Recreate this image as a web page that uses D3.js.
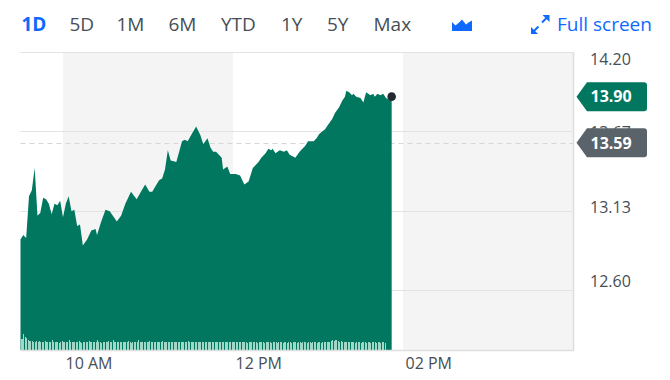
<!DOCTYPE html>
<html><head><meta charset="utf-8">
<script src="https://cdn.jsdelivr.net/npm/d3@7"></script>
<style>
html,body{margin:0;padding:0;background:#fff;}
svg{display:block;font-family:"Open Sans",sans-serif;}
</style></head>
<body>
<svg id="chart" width="670" height="380"></svg>
<script>
// ---- data ----
const rangeButtons = ["1D","5D","1M","6M","YTD","1Y","5Y","Max"];
const activeRange = "1D";
// minutes after the 09:30 open
const minutes = [0,2,4,6,8,10,12,14,16,18,20,22,24,26,28,30,32,34,36,38,40,42,44,47,50,53,54,57,60,63,68,71,74,78,82,85,88,91,93,96,98,100,102,104,106,110,112,114,116,118,121,124,127,129,132,134,136,138,142,143,146,148,152,155,158,161,164,168,170,173,175,177,178,180,183,186,188,190,194,197,201,203,207,209,211,215,217,220,222,225,227,229,230,232,234,235,237,240,242,244,247,249,250,252,254,256,258,260,262];
const prices = [12.94,12.97,12.95,13.23,13.27,13.42,13.10,13.12,13.22,13.21,13.18,13.11,13.18,13.17,13.20,13.09,13.18,13.23,13.13,13.14,13.03,13.04,12.90,12.94,13.00,13.01,12.97,13.06,13.14,13.13,13.06,13.10,13.18,13.26,13.21,13.26,13.31,13.26,13.26,13.31,13.34,13.35,13.41,13.54,13.47,13.46,13.53,13.60,13.61,13.60,13.65,13.70,13.64,13.58,13.62,13.56,13.53,13.53,13.49,13.41,13.43,13.38,13.38,13.37,13.31,13.33,13.42,13.46,13.49,13.52,13.55,13.54,13.55,13.52,13.54,13.53,13.54,13.51,13.49,13.53,13.57,13.60,13.60,13.62,13.65,13.68,13.71,13.75,13.79,13.83,13.87,13.90,13.94,13.93,13.91,13.92,13.90,13.89,13.86,13.93,13.91,13.92,13.90,13.92,13.91,13.92,13.89,13.88,13.90];
// per-minute volume (thousands), from 09:30
const volume = [75,80,110,95,88,70,66,62,64,60, 58,62,57,66,60,58,55,63,57,60, 56,54,70,58,55,60,56,52,58,62,
 55,57,60,54,72,56,58,53,60,57, 55,62,58,52,56,60,54,58,66,56, 57,53,60,55,70,58,56,52,57,60,
 55,58,62,54,57,72,58,55,60,56, 53,57,60,55,58,54,62,56,52,57, 60,55,58,68,56,53,57,60,54,58,
 56,62,55,57,53,60,56,58,54,57, 66,56,53,58,55,57,60,54,56,58, 55,60,54,57,53,58,56,55,64,57,
 54,58,56,53,57,55,60,54,57,56, 53,58,55,57,54,56,60,55,53,57, 55,58,54,56,53,57,55,54,58,56,
 53,55,57,54,56,53,55,57,54,56, 52,55,54,56,53,55,54,52,55,54, 53,55,52,54,56,53,54,52,55,53,
 54,52,55,53,54,52,53,55,52,54, 53,52,54,53,55,52,54,53,52,54, 53,55,52,54,53,52,54,53,55,52,
 54,53,52,55,53,54,56,55,58,62, 70,66,74,68,64,60,62,58,56,55, 57,54,56,53,55,54,52,55,53,54,
 52,54,53,55,52,54,53,52,54,53, 55,52,54,53,52,54,56,50];
const yTicks = [14.20,13.67,13.13,12.60];
const xTicks = [[10,0,"10 AM"],[12,0,"12 PM"],[14,0,"02 PM"]];
const lastPrice = 13.90;
const prevClose = 13.59;
const fullScreenLabel = "Full screen";

// ---- setup ----
const svg = d3.select("#chart");
const day = (h,m)=>new Date(2024,0,2,h,m);
const L = 20.5, R = 573, T = 52, B = 350;
const x = d3.scaleTime().domain([day(9,30), day(16,0)]).range([L, R]);
const y = d3.scaleLinear().domain([12.197, 14.20]).range([B, T]);
const yLabel = d3.scaleLinear().domain([12.60, 14.20]).range([281, 59]);
const vy = d3.scaleLinear().domain([0, 120]).range([B, B - 17]);
const series = minutes.map((m,i)=>({t: day(9,30+m), p: prices[i]}));

// ---- toolbar ----
const btnX = [21.5,69.5,116.5,168.5,221,281,327,373.5];
svg.selectAll("text.btn").data(rangeButtons).join("text")
  .attr("class","btn")
  .attr("x",(d,i)=>btnX[i]).attr("y",31)
  .attr("font-size",19)
  .attr("font-weight",d=>d===activeRange?700:400)
  .attr("fill",d=>d===activeRange?"#0f69ff":"#464e56")
  .text(d=>d);
// area-chart icon
svg.append("path").attr("d","M452,31 L452,22 L455.5,25.5 L458.5,23 L462,19.5 L466,24.5 L468.5,22.5 L472,20.5 L472,31 Z").attr("fill","#0f69ff");
// expand icon
const ic = svg.append("g").attr("stroke","#0f69ff").attr("stroke-width",2).attr("fill","#0f69ff");
ic.append("line").attr("x1",542).attr("y1",22.5).attr("x2",547).attr("y2",17.5);
ic.append("path").attr("d","M549.5,15 L542.5,15 L549.5,22 Z").attr("stroke","none");
ic.append("line").attr("x1",538.5).attr("y1",26.5).attr("x2",533.5).attr("y2",31.5);
ic.append("path").attr("d","M531,34 L538,34 L531,27 Z").attr("stroke","none");
svg.append("text").attr("x",557).attr("y",31).attr("font-size",19).attr("fill","#0f69ff").text(fullScreenLabel);

// ---- background bands ----
const bands = [[day(10,0),day(12,0)],[day(14,0),day(16,0)]];
svg.selectAll("rect.band").data(bands).join("rect").attr("class","band")
  .attr("x",d=>x(d[0])).attr("width",d=>x(d[1])-x(d[0]))
  .attr("y",T).attr("height",B-T).attr("fill","#f4f4f4");

// gridlines
svg.selectAll("line.grid").data(yTicks).join("line").attr("class","grid")
  .attr("x1",L).attr("x2",R).attr("y1",d=>Math.round(y(d))+0.5).attr("y2",d=>Math.round(y(d))+0.5)
  .attr("stroke","#e3e3e3").attr("stroke-width",1);

// previous close dashed
svg.append("line").attr("x1",L).attr("x2",R)
  .attr("y1",Math.round(y(prevClose))+0.5).attr("y2",Math.round(y(prevClose))+0.5)
  .attr("stroke","#d6d6d6").attr("stroke-dasharray","5,4");

// ---- area ----
const area = d3.area().x(d=>x(d.t)).y0(B).y1(d=>y(d.p)).curve(d3.curveLinear);
svg.append("path").datum(series).attr("d",area).attr("fill","#00775e");

// volume bars
svg.selectAll("rect.vol").data(volume).join("rect").attr("class","vol")
  .attr("x",(d,i)=>x(day(9,30+i))).attr("width",1)
  .attr("y",d=>vy(d)).attr("height",d=>B-vy(d))
  .attr("shape-rendering","crispEdges")
  .attr("fill","#9fd8c7");

// frame: right border and bottom axis line
svg.append("line").attr("x1",R+0.5).attr("x2",R+0.5).attr("y1",T).attr("y2",B+1)
  .attr("stroke","#dedede").attr("stroke-width",1.5);
svg.append("line").attr("x1",L).attr("x2",R+1).attr("y1",B+0.5).attr("y2",B+0.5)
  .attr("stroke","#dedede").attr("stroke-width",1.5);

// last point dot
const last = series[series.length-1];
svg.append("circle").attr("cx",x(last.t)).attr("cy",y(last.p)).attr("r",4.3).attr("fill","#232a31");

// ---- x axis ----
const xAxis = d3.axisBottom(x).tickValues(xTicks.map(d=>day(d[0],d[1])))
  .tickFormat((d,i)=>xTicks[i][2]).tickSize(0);
const gx = svg.append("g").attr("transform",`translate(0,${B})`).call(xAxis);
gx.select(".domain").remove();
gx.selectAll("text").attr("font-family","Open Sans").attr("font-size",16).attr("fill","#464e56")
  .attr("text-anchor","start").attr("dx",2).attr("dy",0).attr("y",19);

// ---- y labels (13.67 sits partly behind the previous-close flag, as in the source) ----
svg.selectAll("text.yl").data(yTicks).join("text").attr("class","yl")
  .attr("x",590).attr("y",d=>yLabel(d)).attr("dy","0.35em")
  .attr("font-size",16).attr("fill","#464e56").text(d=>d.toFixed(2));

// ---- price flags ----
function flag(v, color){
  const cy = y(v);
  const g = svg.append("g");
  g.append("path").attr("d",
    `M576.5,${cy} L587,${cy-14.5} L644,${cy-14.5} Q647,${cy-14.5} 647,${cy-11.5} L647,${cy+11.5} Q647,${cy+14.5} 644,${cy+14.5} L587,${cy+14.5} Z`)
    .attr("fill",color);
  g.append("text").attr("x",590.5).attr("y",cy).attr("dy","0.36em")
    .attr("font-size",16).attr("font-weight",700).attr("fill","#fff").text(v.toFixed(2));
}
flag(lastPrice,"#00775e");
flag(prevClose,"#5b636a");
</script>
</body></html>
